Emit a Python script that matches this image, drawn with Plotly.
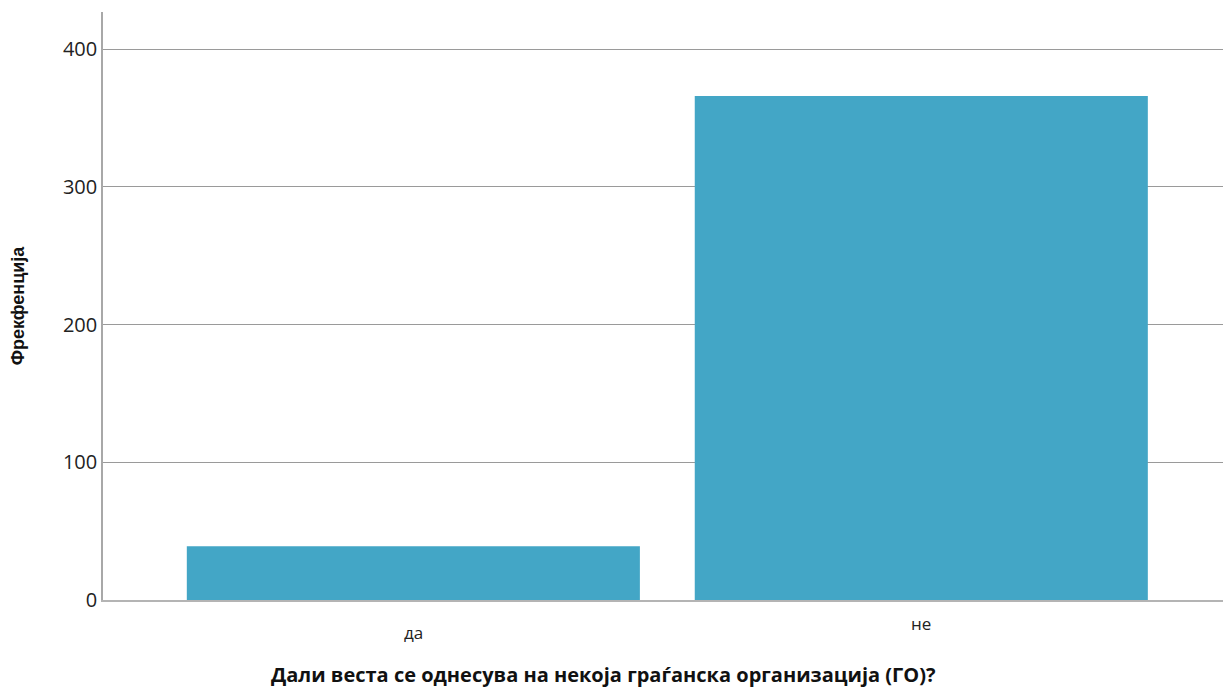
import plotly.graph_objects as go

categories = ["да", "не"]
counts = [39, 366]
y_ticks = [0, 100, 200, 300, 400]

fig = go.Figure()
fig.add_trace(go.Bar(x=[0, 1], y=counts, marker=dict(color="#43A6C6", line=dict(width=0)),
                     width=0.892, hoverinfo="skip"))

# category labels (placed at slightly different heights as in reference)
label_shift = [-32, -23]
for i, c in enumerate(categories):
    fig.add_annotation(x=i, y=0, xref="x", yref="y", text=c, showarrow=False,
                       yshift=label_shift[i], font=dict(family="Open Sans", size=17, color="#222"))

fig.add_annotation(x=(603 - 103) / 1120, y=0, xref="paper", yref="paper", yanchor="middle",
                   yshift=-74, showarrow=False,
                   text="<b>Дали веста се однесува на некоја граѓанска организација (ГО)?</b>",
                   font=dict(family="Open Sans", size=20, color="#111"))

fig.update_layout(
    width=1223, height=688,
    margin=dict(l=103, r=0, t=12, b=88),
    plot_bgcolor="white", paper_bgcolor="white",
    showlegend=False,
    xaxis=dict(range=[-0.611, 1.594], showticklabels=False, ticks="", showgrid=False,
               zeroline=False, showline=True, linecolor="#b4b4b4", linewidth=2),
    yaxis=dict(range=[0, 427], tickvals=y_ticks, ticktext=[str(v) for v in y_ticks],
               showgrid=True, gridcolor="#9a9a9a", gridwidth=1, zeroline=False,
               showline=True, linecolor="#a8a8a8", linewidth=1.5,
               tickfont=dict(family="Open Sans", size=20, color="#222"), ticks="", ticklen=0,
               title=dict(text="<b>Фрекфенција</b>", font=dict(family="Liberation Sans", size=18, color="#111"),
                          standoff=34)),
    font=dict(family="Open Sans"),
)
fig.write_html("out.html", config={"displayModeBar": False},
               post_script="document.body.style.margin='0';")
